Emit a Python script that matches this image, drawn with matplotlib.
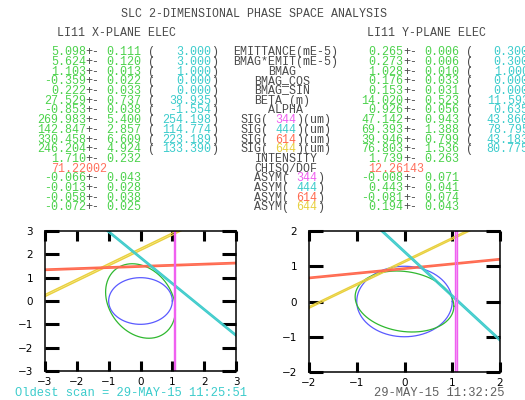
import numpy as np
import matplotlib
matplotlib.use("Agg")
import matplotlib.pyplot as plt

W, H = 525, 400
MONO = "Liberation Mono"
FS = 8.36          # monospace size, ~6.97 px per character
CW = 0.6 * FS * 100 / 72
ROW0, DROW = 55.3, 9.69

GRAY = "#4a4a4a"
GREEN = "#4cd24c"
CYAN = "#3ccccc"
SALMON = "#ff6f5c"

title = "SLC 2-DIMENSIONAL PHASE SPACE ANALYSIS"
head_x = "LI11 X-PLANE ELEC"
head_y = "LI11 Y-PLANE ELEC"
scan_old = "Oldest scan = 29-MAY-15 11:25:51"
scan_new = "29-MAY-15 11:32:25"

wires = ["344", "444", "614", "644"]
wire_colors = ["#f060f0", "#40cccc", "#ff6a50", "#e8d040"]
wire_fill = ["#f4b4f8", "#8ee4e4", "#ffa090", "#fff2a0"]

labels = ["EMITTANCE(mE-5)", "BMAG*EMIT(mE-5)", "     BMAG", "   BMAG_COS",
          "   BMAG\u00afSIN", "   BETA\u00af(m)", "     ALPHA",
          " SIG( 344)(um)", " SIG( 444)(um)", " SIG( 614)(um)", " SIG( 644)(um)",
          "   INTENSITY", "   CHISQ/DOF",
          "   ASYM( 344)", "   ASYM( 444)", "   ASYM( 614)", "   ASYM( 644)"]

# X plane fit results
x_val = [5.098, 5.624, 1.103, -0.359, 0.222, 27.529, -0.853,
         269.983, 142.847, 330.458, 246.204, 1.710]
x_err = [0.111, 0.120, 0.013, 0.022, 0.033, 0.737, 0.038,
         5.400, 2.857, 6.609, 4.924, 0.232]
x_ref = [3.000, 3.000, 1.000, 0.000, 0.000, 38.935, -1.554,
         254.198, 114.774, 223.189, 133.390]
x_chisq = 71.22002
x_asym = [-0.066, -0.013, -0.058, -0.072]
x_asym_err = [0.043, 0.028, 0.038, 0.025]
x_phase = [0.0, 42.0, 92.75, 123.4]   # wire phase advance (deg)

# Y plane fit results
y_val = [0.265, 0.273, 1.028, 0.176, 0.153, 14.020, 0.926,
         47.142, 69.393, 39.946, 76.803, 1.739]
y_err = [0.006, 0.006, 0.010, 0.033, 0.031, 0.523, 0.056,
         0.943, 1.388, 0.799, 1.536, 0.263]
y_ref = [0.300, 0.300, 1.000, 0.000, 0.000, 11.593, 0.635,
         43.860, 78.795, 43.183, 80.775]
y_chisq = 12.26143
y_asym = [-0.008, 0.443, -0.081, 0.194]
y_asym_err = [0.071, 0.041, 0.074, 0.043]
y_phase = [0.0, 38.6, 97.55, 123.1]

fig = plt.figure(figsize=(W / 100, H / 100), dpi=100)


def put(x, y, segs, size=FS):
    # each coloured piece goes at its own column on the character grid
    cw = 0.6 * size * 100 / 72
    col = 0
    for s, c in segs:
        lead = len(s) - len(s.lstrip(" "))
        body = s.strip(" ")
        if body:
            fig.text((x + (col + lead) * cw) / W, 1 - y / H, body,
                     fontfamily=MONO, fontsize=size, color=c,
                     ha="left", va="baseline")
        col += len(s)


def value_rows(x0, val, err, ref, chisq, asym, asym_err):
    rows = []
    for i, v in enumerate(val):
        segs = [(f"{v:8.3f}", GREEN), ("+- ", GRAY), (f"{err[i]:5.3f}", GREEN)]
        if i < len(ref):
            segs += [(" (", GRAY), (f"{ref[i]:8.3f}", CYAN), (")", GRAY)]
        rows.append(segs)
    rows.append([(f"{chisq:11.5f}", SALMON)])
    for a, e in zip(asym, asym_err):
        rows.append([(f"{a:8.3f}", GREEN), ("+- ", GRAY), (f"{e:5.3f}", GREEN)])
    for i, segs in enumerate(rows):
        put(x0, ROW0 + i * DROW, segs)


put(121, 16.7, [(title, GRAY)])
put(57, 35.7, [(head_x, GRAY)])
put(367.3, 35.7, [(head_y, GRAY)])

value_rows(29.9, x_val, x_err, x_ref, x_chisq, x_asym, x_asym_err)
value_rows(347.4, y_val, y_err, y_ref, y_chisq, y_asym, y_asym_err)

for i, lab in enumerate(labels):
    segs = [(lab, GRAY)]
    for w, c in zip(wires, wire_colors):
        if w in lab:
            a, b = lab.split(w)
            segs = [(a, GRAY), (w, c), (b, GRAY)]
            break
    put(233.5, ROW0 + i * DROW, segs)

put(14.8, 396.5, [(scan_old, CYAN)], size=8.75)
put(374, 396.5, [(scan_new, "#606060")], size=8.75)


def phase_plot(rect, lim, val, ref, err, phase, emit, emit0):
    ax = fig.add_axes(rect)
    t = np.linspace(0, 2 * np.pi, 400)

    # design ellipse (unit circle in normalised phase space)
    ax.plot(np.cos(t), np.sin(t), color="#5a5aff", lw=0.9)

    # measured ellipse from beta/alpha relative to design
    beta, alpha = val[5], val[6]
    beta0, alpha0 = ref[5], ref[6]
    bn = beta / beta0
    an = alpha - alpha0 * bn
    gn = (1 + an ** 2) / bn
    sig = (emit / emit0) * np.array([[bn, -an], [-an, gn]])
    L = np.linalg.cholesky(sig)
    pts = L @ np.vstack([np.cos(t), np.sin(t)])
    ax.plot(pts[0], pts[1], color="#2fb82f", lw=0.9)

    # one band per wire: cos(phi) X + sin(phi) Y = sigma/sigma0 +- error
    for k in [3, 2, 1, 0]:
        s = val[7 + k] / ref[7 + k]
        e = err[7 + k] / ref[7 + k]
        ph = np.radians(phase[k])
        n = np.array([np.cos(ph), np.sin(ph)])
        d = np.array([-np.sin(ph), np.cos(ph)])
        far = 20
        lo = np.array([(s - e) * n - far * d, (s - e) * n + far * d])
        hi = np.array([(s + e) * n - far * d, (s + e) * n + far * d])
        poly = np.vstack([lo, hi[::-1]])
        ax.fill(poly[:, 0], poly[:, 1], color=wire_fill[k], lw=0)
        for edge in (lo, hi):
            ax.plot(edge[:, 0], edge[:, 1], color=wire_colors[k], lw=1.0)

    ax.set_xlim(-lim, lim)
    ax.set_ylim(-lim, lim)
    ticks = np.arange(-lim, lim + 1)
    ax.set_xticks(ticks)
    ax.set_yticks(ticks)
    for sp in ax.spines.values():
        sp.set_linewidth(1.1)
    ax.tick_params(axis="x", direction="in", top=True, length=7.2, width=2.2,
                   labelsize=7.5, pad=4)
    ax.tick_params(axis="y", direction="in", right=True, length=10, width=2.2,
                   labelsize=7.5, pad=8.5)
    return ax


phase_plot([45 / W, 1 - 371 / H, 191 / W, 140 / H], 3,
           x_val, x_ref, x_err, x_phase, x_val[0], x_ref[0])
phase_plot([309 / W, 1 - 372 / H, 191 / W, 141 / H], 2,
           y_val, y_ref, y_err, y_phase, y_val[0], y_ref[0])

fig.savefig("out.png", dpi=100)
